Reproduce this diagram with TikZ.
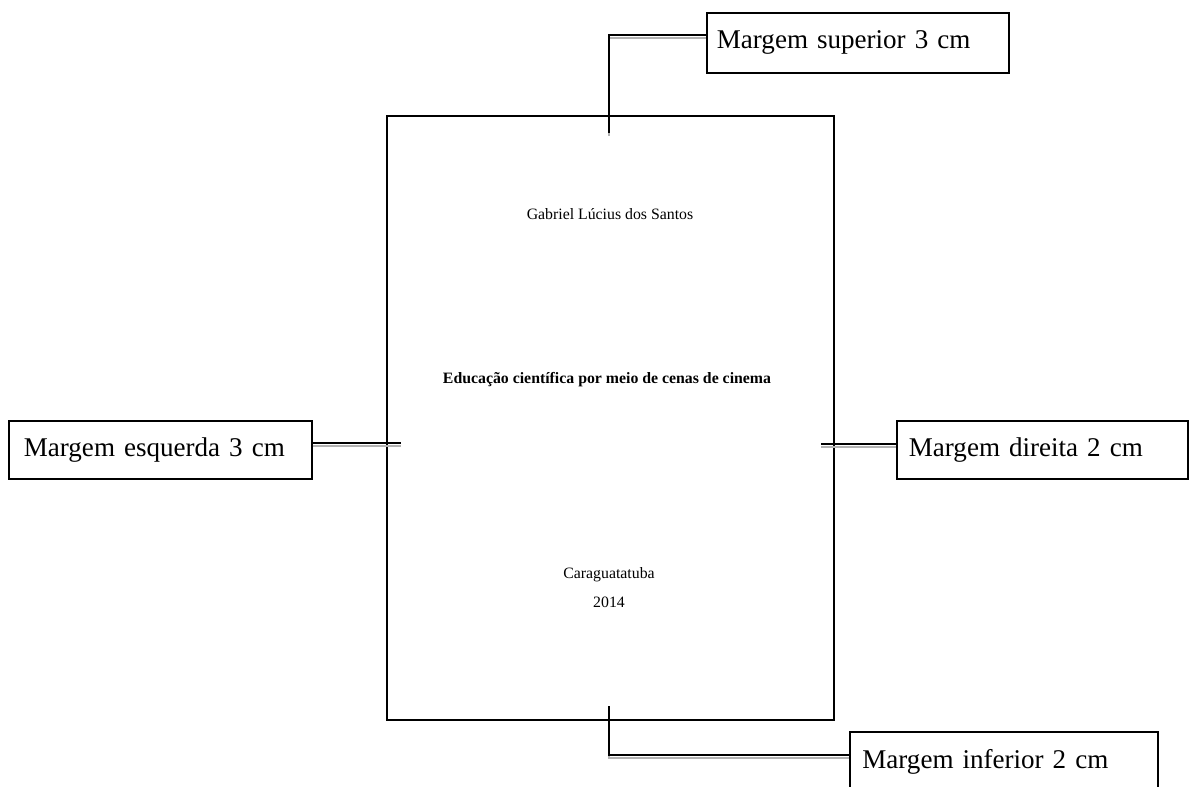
\documentclass[tikz,border=0pt]{standalone}
\usepackage{fontspec}
\setmainfont{Liberation Serif}
\usetikzlibrary{positioning}

\begin{document}
\begin{tikzpicture}[
x=0.02cm, y=-0.02cm,
margembox/.style={draw, line width=1pt, anchor=north west, minimum height=1.2cm, inner xsep=0.2cm, align=left, font=\fontsize{15.4}{18}\selectfont},
pagina/.style={draw, line width=1pt, anchor=north west, minimum width=8.94cm, minimum height=12.08cm},
texto/.style={font=\fontsize{9}{11}\selectfont},
ligacao/.style={line width=1pt, preaction={draw=gray!60, line width=1pt, transform canvas={yshift=-1.7pt}}}
]
\useasboundingbox (0,0) rectangle (1197,787);
% folha de rosto
\node[pagina] (folha) at (386,115) {};
\node[texto] (autor) at (610,214) {Gabriel Lúcius dos Santos};
\node[texto, font=\fontsize{9}{11}\selectfont\bfseries] (titulo) at (607,380) {Educação científica por meio de cenas de cinema};
\node[texto] (cidade) at (609,575) {Caraguatatuba};
\node[texto] (ano) at (609,602) {2014};

% caixas das margens
\node[margembox, text width=5.64cm, minimum height=1.2cm] (sup) at (706,12) {Margem superior 3 cm};
\node[margembox, inner xsep=0.3cm, text width=5.46cm, minimum height=1.16cm] (esq) at (8,420) {Margem esquerda 3 cm};
\node[margembox, inner xsep=0.24cm, text width=5.34cm, minimum height=1.16cm] (dir) at (896,420) {Margem direita 2 cm};
\node[margembox, inner xsep=0.25cm, text width=5.66cm, minimum height=1.2cm] (inf) at (849,731) {Margem inferior 2 cm};

% ligacoes
\coordinate (supcanto) at (609,35);
\coordinate (supfim) at (609,133);
\coordinate (esqfim) at (401,443);
\coordinate (dirinicio) at (821,444);
\coordinate (infinicio) at (609,706);
\coordinate (infcanto) at (609,755);
\draw[ligacao] (sup.west |- supcanto) -- (supcanto) -- (supfim);
\draw[ligacao] (esq.east |- esqfim) -- (esqfim);
\draw[ligacao] (dirinicio) -- (dir.west |- dirinicio);
\draw[ligacao] (infinicio) -- (infcanto) -- (inf.west |- infcanto);
\end{tikzpicture}
\end{document}
